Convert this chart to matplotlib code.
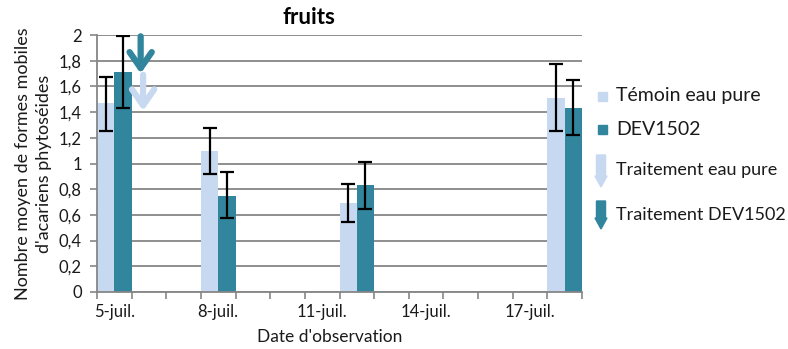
import matplotlib
matplotlib.use("Agg")
import matplotlib.pyplot as plt
from matplotlib.patches import Rectangle, FancyArrow

plt.rcParams['font.family'] = ['Lato', 'DejaVu Sans']

# Data (day of July)
days = [5, 8, 12, 18]
temoin = [1.47, 1.095, 0.695, 1.51]
temoin_err_hi = [1.675, 1.274, 0.84, 1.775]
temoin_err_lo = [1.253, 0.92, 0.547, 1.253]
dev = [1.71, 0.75, 0.83, 1.434]
dev_err_hi = [1.99, 0.93, 1.014, 1.647]
dev_err_lo = [1.434, 0.578, 0.646, 1.222]
tick_days = [5, 8, 11, 14, 17]
tick_labels = ["5-juil.", "8-juil.", "11-juil.", "14-juil.", "17-juil."]
yticks = [0, 0.2, 0.4, 0.6, 0.8, 1, 1.2, 1.4, 1.6, 1.8, 2]
ytick_labels = ["0", "0,2", "0,4", "0,6", "0,8", "1", "1,2", "1,4", "1,6", "1,8", "2"]

light = "#C6D9F1"
dark = "#31859C"
grid_c = "#868686"
txt_c = "#1a1a1a"

W, H = 788, 349
fig = plt.figure(figsize=(W / 100, H / 100), dpi=100)
ax = fig.add_axes([97 / W, 1 - 292 / H, (582 - 97) / W, (292 - 35) / H])

bw = 0.5
xl = [d - bw / 2 for d in days]
xd = [d + bw / 2 for d in days]
ax.bar(xl, temoin, width=bw, color=light, zorder=2)
ax.bar(xd, dev, width=bw, color=dark, zorder=2)

ekw = dict(fmt='none', ecolor='black', elinewidth=1.6, capsize=5, capthick=1.6, zorder=3)
ax.errorbar(xl, temoin, yerr=[[t - l for t, l in zip(temoin, temoin_err_lo)],
                              [h - t for t, h in zip(temoin, temoin_err_hi)]], **ekw)
ax.errorbar(xd, dev, yerr=[[t - l for t, l in zip(dev, dev_err_lo)],
                           [h - t for t, h in zip(dev, dev_err_hi)]], **ekw)

# treatment arrows
astyle = "->,head_length=1.15,head_width=0.8"
ax.annotate("", xy=(5.76, 1.70), xytext=(5.76, 1.99),
            arrowprops=dict(arrowstyle=astyle, color=dark, lw=4.5,
                            shrinkA=0, shrinkB=0), zorder=4)
ax.annotate("", xy=(5.83, 1.41), xytext=(5.83, 1.69),
            arrowprops=dict(arrowstyle=astyle, color=light, lw=4.5,
                            shrinkA=0, shrinkB=0), zorder=4)

ax.set_xlim(4.5, 18.5)
ax.set_ylim(0, 2)
ax.set_yticks(yticks)
ax.set_yticklabels(ytick_labels, fontsize=12, color=txt_c)
ax.yaxis.grid(True, color=grid_c, lw=1.3, zorder=0)
ax.set_axisbelow(True)

bounds = [4.5 + i for i in range(15)]
ax.set_xticks(bounds)
ax.set_xticklabels([])
ax.set_xticks(tick_days, minor=True)
ax.set_xticklabels(tick_labels, minor=True, fontsize=12, color=txt_c)
ax.tick_params(axis='x', which='major', length=5, color=grid_c, width=1.2, direction='out')
ax.tick_params(axis='x', which='minor', length=0, pad=9)
ax.tick_params(axis='y', length=5, color=grid_c, width=1.2, pad=6)

for s in ['top', 'right']:
    ax.spines[s].set_visible(False)
for s in ['left', 'bottom']:
    ax.spines[s].set_color(grid_c)
    ax.spines[s].set_linewidth(1.3)

ax.set_xlabel("Date d'observation", fontsize=12.5, color=txt_c)
ax.xaxis.set_label_coords((330 - 97) / (582 - 97), -(329 - 292) / (292 - 35))
ax.set_ylabel("Nombre moyen de formes mobiles\nd'acariens phytoséides", fontsize=13,
              color=txt_c, linespacing=1.35)
ax.yaxis.set_label_coords(-(97 - 52) / (582 - 97), 0.5)

fig.text(309 / W, 1 - 17 / H, "fruits", fontsize=16, fontweight='bold', ha='center', va='center')

# legend
def fx(px):
    return px / W

def fy(py):
    return 1 - py / H

fig.patches.append(Rectangle((fx(598), fy(101)), 9 / W, 9 / H, transform=fig.transFigure,
                             color=light, figure=fig))
fig.patches.append(Rectangle((fx(598), fy(134)), 9 / W, 9 / H, transform=fig.transFigure,
                             color=dark, figure=fig))
fig.text(fx(616), fy(96), "Témoin eau pure", fontsize=14, va='center', color=txt_c)
fig.text(fx(616), fy(130), "DEV1502", fontsize=14, va='center', color=txt_c)
fig.text(fx(616), fy(170), "Traitement eau pure", fontsize=13, va='center', color=txt_c)
fig.text(fx(616), fy(215), "Traitement DEV1502", fontsize=13, va='center', color=txt_c)
fig.patches.append(FancyArrow(fx(601), fy(155), 0, -(32 / H), width=4 / H, head_width=12 / W,
                              head_length=11 / H, length_includes_head=True,
                              transform=fig.transFigure, color=light, figure=fig))
fig.patches.append(FancyArrow(fx(601), fy(201), 0, -(28 / H), width=4 / H, head_width=12 / W,
                              head_length=11 / H, length_includes_head=True,
                              transform=fig.transFigure, color=dark, figure=fig))

fig.savefig("out.png", dpi=100)
